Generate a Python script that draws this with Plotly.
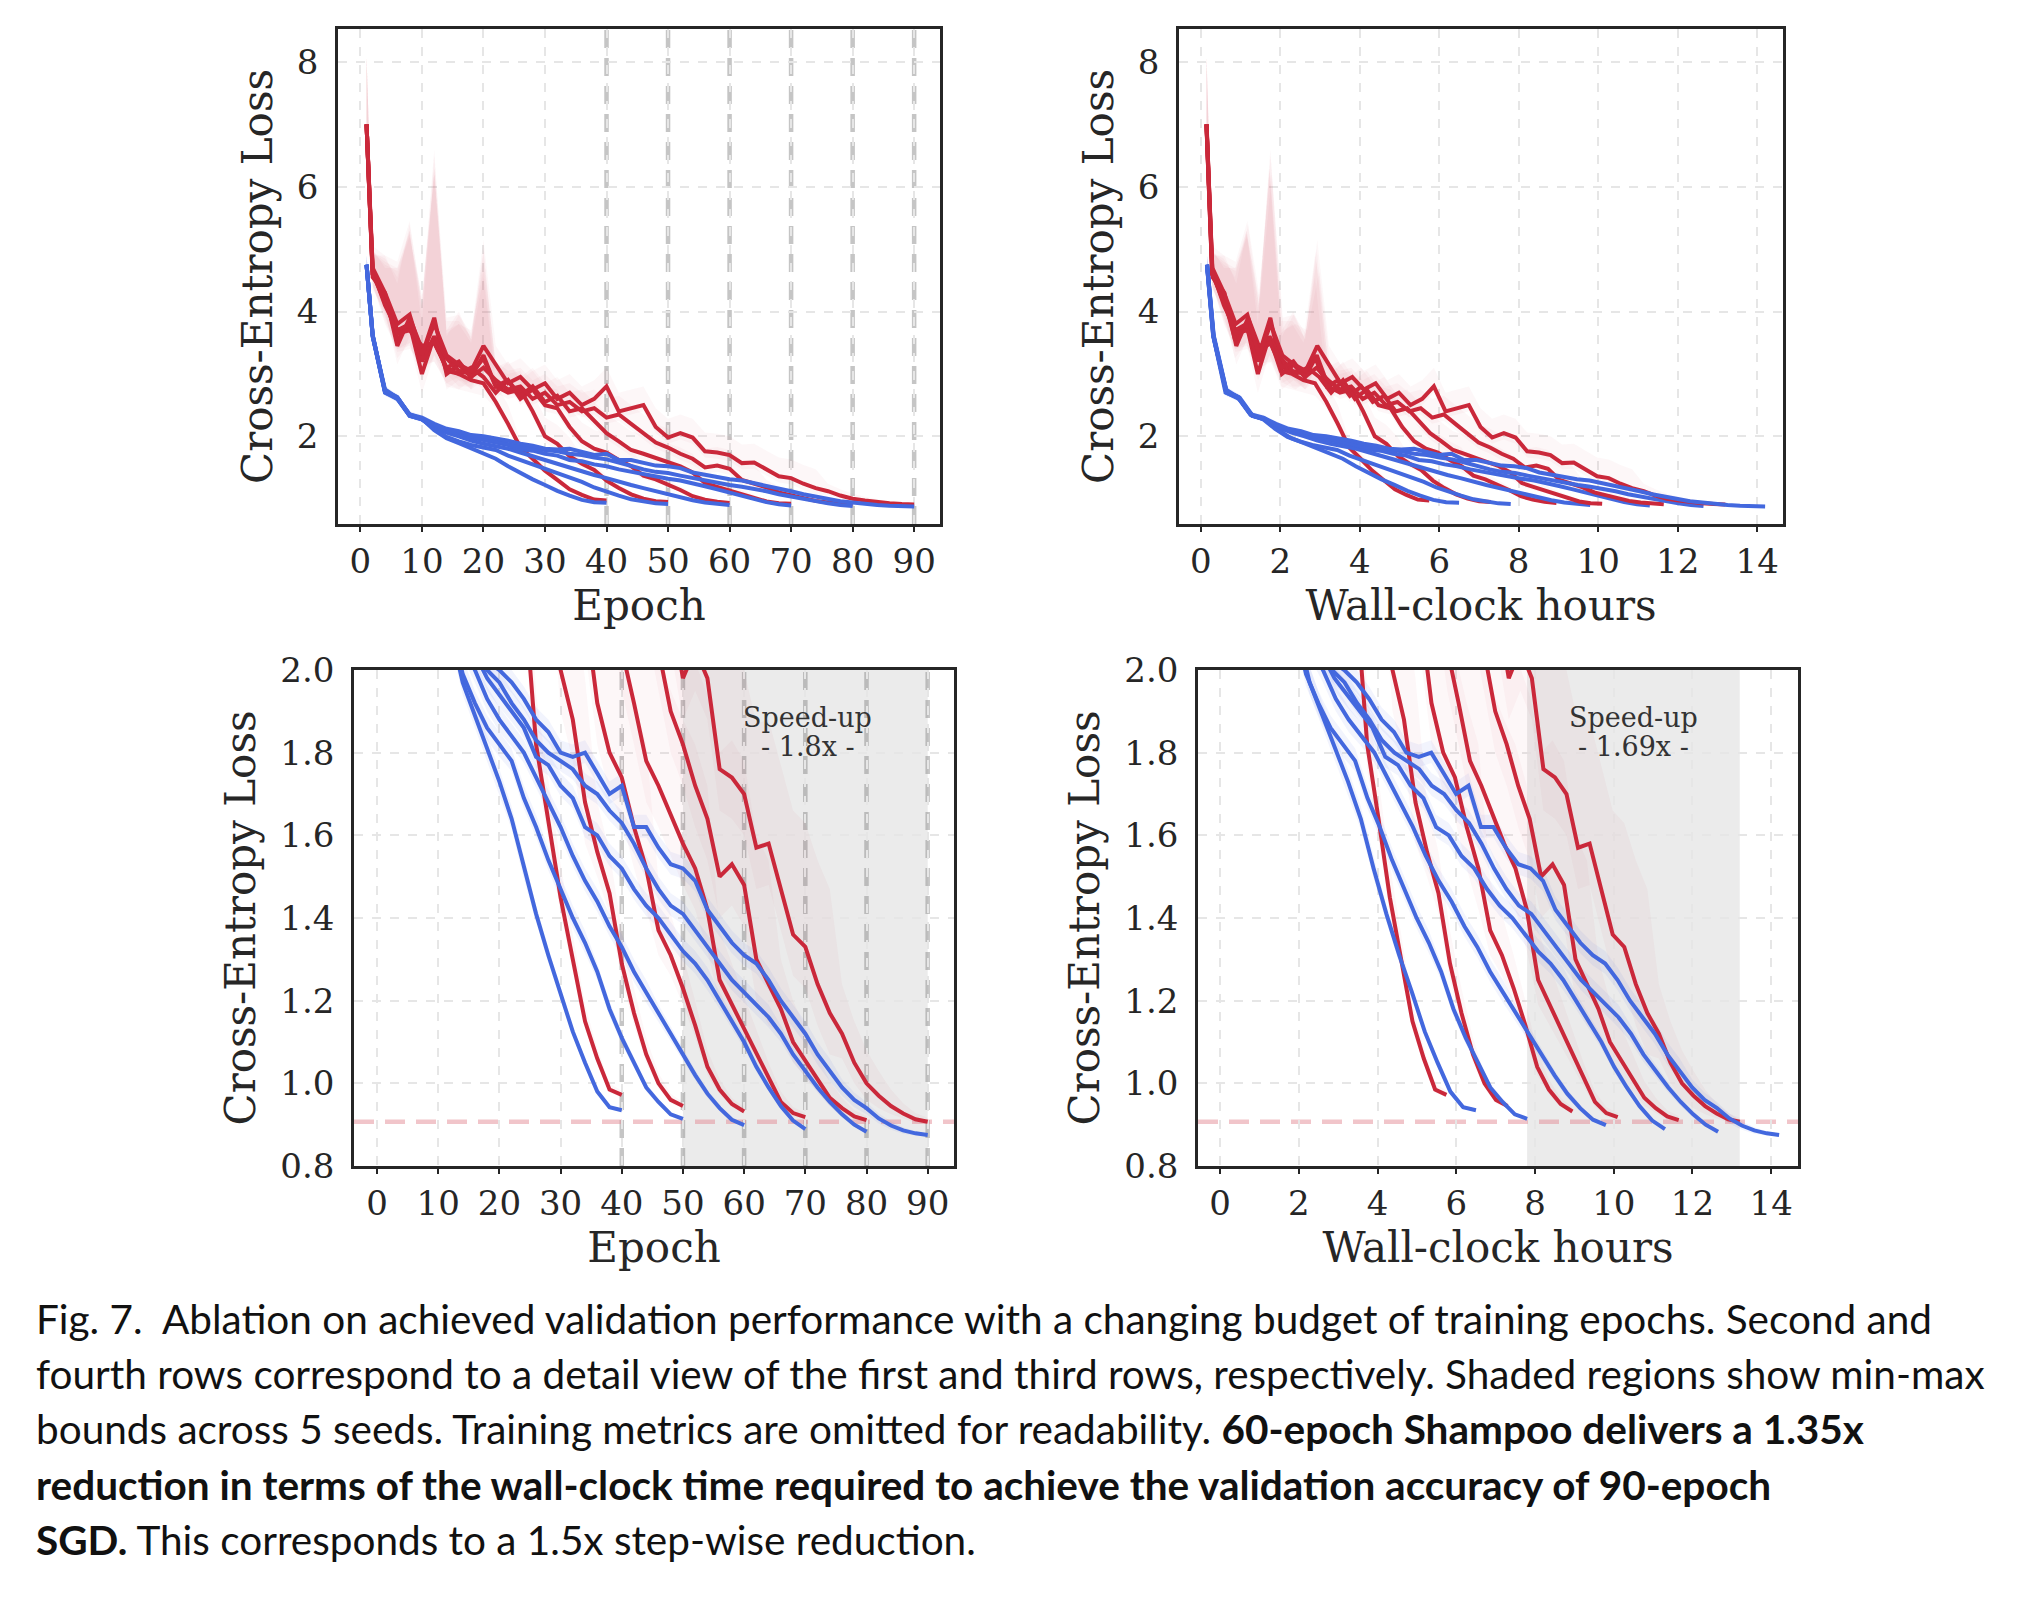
import plotly.graph_objects as go

# ---------------- data ----------------
budgets = [40, 50, 60, 70, 80, 90]

# validation loss at epochs 1, 2, 4, 6, ..., budget  (SGD = red, Shampoo = blue)
sgd_40 = [7.0, 4.6, 4.25, 3.55, 3.8, 3.0, 3.6, 3.05, 3.0, 2.9, 2.85, 2.55, 2.2, 1.82, 1.64, 1.45, 1.30, 1.15, 1.06, 0.985, 0.972]
sgd_50 = [7.0, 4.65, 4.1, 3.7, 3.75, 3.3, 3.9, 3.0, 3.15, 2.95, 3.3, 2.8, 2.7, 2.75, 2.4, 2.0, 1.88, 1.68, 1.56, 1.46, 1.29, 1.17, 1.07, 1.0, 0.96, 0.945]
sgd_60 = [7.0, 4.55, 4.3, 3.45, 3.9, 3.4, 3.5, 3.1, 3.0, 3.1, 2.95, 2.7, 2.9, 2.6, 2.75, 2.5, 2.45, 2.15, 1.92, 1.80, 1.74, 1.62, 1.52, 1.37, 1.31, 1.23, 1.14, 1.04, 0.985, 0.95, 0.932]
sgd_70 = [7.0, 4.6, 4.2, 3.7, 3.8, 3.2, 3.6, 3.25, 3.05, 3.0, 3.25, 2.8, 2.9, 2.65, 2.8, 2.55, 2.65, 2.4, 2.45, 2.25, 2.05, 1.92, 1.78, 1.72, 1.65, 1.58, 1.52, 1.42, 1.25, 1.19, 1.13, 1.07, 1.01, 0.955, 0.928, 0.918]
sgd_80 = [7.0, 4.6, 4.15, 3.65, 3.7, 3.45, 3.5, 3.1, 3.2, 2.95, 3.1, 2.9, 2.75, 2.8, 2.6, 2.7, 2.5, 2.55, 2.4, 2.45, 2.3, 2.35, 2.2, 2.05, 1.9, 1.82, 1.72, 1.64, 1.50, 1.53, 1.48, 1.30, 1.24, 1.18, 1.10, 1.055, 1.01, 0.965, 0.94, 0.92, 0.911]
sgd_90 = [7.0, 4.7, 4.3, 3.8, 3.95, 3.3, 3.8, 3.3, 3.15, 3.05, 3.45, 3.15, 2.85, 2.95, 2.75, 2.85, 2.6, 2.7, 2.5, 2.6, 2.8, 2.4, 2.45, 2.5, 2.15, 1.98, 2.05, 1.98, 1.76, 1.74, 1.70, 1.57, 1.58, 1.47, 1.36, 1.33, 1.24, 1.17, 1.12, 1.05, 1.0, 0.97, 0.945, 0.927, 0.913, 0.907]

shampoo_40 = [4.75, 3.6, 2.72, 2.6, 2.33, 2.28, 2.1, 1.97, 1.89, 1.81, 1.73, 1.64, 1.52, 1.41, 1.31, 1.22, 1.125, 1.05, 0.98, 0.942, 0.935]
shampoo_50 = [4.75, 3.62, 2.7, 2.62, 2.35, 2.28, 2.12, 1.99, 1.92, 1.86, 1.82, 1.78, 1.69, 1.62, 1.54, 1.47, 1.40, 1.34, 1.27, 1.18, 1.11, 1.05, 0.99, 0.955, 0.925, 0.914]
shampoo_60 = [4.75, 3.62, 2.72, 2.62, 2.33, 2.27, 2.14, 2.06, 2.0, 1.93, 1.88, 1.84, 1.8, 1.74, 1.68, 1.62, 1.55, 1.49, 1.44, 1.38, 1.33, 1.27, 1.22, 1.17, 1.12, 1.07, 1.02, 0.975, 0.94, 0.912, 0.899]
shampoo_70 = [4.75, 3.6, 2.7, 2.6, 2.33, 2.27, 2.16, 2.08, 2.04, 1.98, 1.94, 1.9, 1.86, 1.79, 1.77, 1.72, 1.69, 1.62, 1.6, 1.55, 1.52, 1.47, 1.43, 1.40, 1.36, 1.32, 1.29, 1.25, 1.2, 1.15, 1.1, 1.04, 0.99, 0.945, 0.91, 0.889]
shampoo_80 = [4.75, 3.62, 2.72, 2.63, 2.34, 2.28, 2.18, 2.1, 2.06, 2.0, 1.97, 1.92, 1.88, 1.83, 1.8, 1.78, 1.76, 1.72, 1.7, 1.66, 1.63, 1.58, 1.52, 1.47, 1.43, 1.41, 1.37, 1.33, 1.29, 1.25, 1.22, 1.19, 1.16, 1.12, 1.07, 1.03, 0.99, 0.955, 0.925, 0.9, 0.883]
shampoo_90 = [4.75, 3.6, 2.75, 2.62, 2.35, 2.3, 2.2, 2.12, 2.08, 2.02, 2.0, 1.97, 1.93, 1.88, 1.85, 1.8, 1.79, 1.8, 1.75, 1.70, 1.72, 1.62, 1.62, 1.57, 1.53, 1.52, 1.49, 1.42, 1.38, 1.34, 1.31, 1.29, 1.25, 1.20, 1.16, 1.12, 1.07, 1.03, 0.99, 0.96, 0.94, 0.915, 0.898, 0.886, 0.879, 0.875]

# total wall-clock hours of each run
sgd_hours = [5.75, 7.3, 8.95, 10.1, 11.65, 13.2]
shampoo_hours = [6.5, 7.8, 9.8, 11.3, 12.65, 14.2]

# min-max band offsets (first 11 points, middle, last 8 points)
sgd_head_hi = [1.1, 0.35, 0.6, 1.0, 1.5, 0.8, 2.7, 0.6, 0.8, 0.6, 1.7]
sgd_head_lo = [0.3, 0.2, 0.3, 0.3, 0.3, 0.3, 0.3, 0.25, 0.25, 0.2, 0.2]
sgd_mid_hi, sgd_mid_lo = 0.3, 0.1
sgd_tail_hi = [0.12, 0.1, 0.08, 0.06, 0.04, 0.025, 0.015, 0.01]
sgd_tail_lo = [0.06, 0.05, 0.04, 0.03, 0.02, 0.012, 0.008, 0.005]
shampoo_head_hi = [0.15, 0.08, 0.06, 0.05, 0.05, 0.04, 0.04, 0.04, 0.03, 0.03, 0.03]
shampoo_head_lo = [0.1, 0.06, 0.05, 0.05, 0.04, 0.04, 0.03, 0.03, 0.03, 0.03, 0.03]
shampoo_mid_hi, shampoo_mid_lo = 0.03, 0.025
shampoo_tail_hi = [0.02, 0.018, 0.015, 0.012, 0.01, 0.008, 0.005, 0.003]
shampoo_tail_lo = [0.02, 0.018, 0.015, 0.012, 0.01, 0.008, 0.005, 0.003]

target_loss = 0.907          # final loss of 90-epoch SGD
speedup_epoch = (50, 90)
speedup_hours = (7.8, 13.2)

sgd_runs = [sgd_40, sgd_50, sgd_60, sgd_70, sgd_80, sgd_90]
shampoo_runs = [shampoo_40, shampoo_50, shampoo_60, shampoo_70, shampoo_80, shampoo_90]

RED = "rgb(202,40,58)"
BLUE = "rgb(67,104,222)"
RED_FILL = "rgba(215,70,90,0.045)"
BLUE_FILL = "rgba(67,104,222,0.07)"
SERIF = "DejaVu Serif"
INK = "#262626"


def epochs_of(b):
    return [1] + list(range(2, b + 1, 2))


def spreads(n, head, mid, tail):
    out = []
    for i in range(n):
        if i < len(head):
            out.append(head[i])
        elif i >= n - len(tail):
            out.append(tail[i - (n - len(tail))])
        else:
            out.append(mid)
    return out


fig = go.Figure()
panels = [("x", "y", "epoch"), ("x2", "y2", "hours"), ("x3", "y3", "epoch"), ("x4", "y4", "hours")]

for xa, ya, kind in panels:
    for bi, b in enumerate(budgets):
        ep = epochs_of(b)
        for runs, hours, col, fill, hh, hl, mh, ml, th, tl in [
            (sgd_runs, sgd_hours, RED, RED_FILL, sgd_head_hi, sgd_head_lo, sgd_mid_hi, sgd_mid_lo, sgd_tail_hi, sgd_tail_lo),
            (shampoo_runs, shampoo_hours, BLUE, BLUE_FILL, shampoo_head_hi, shampoo_head_lo, shampoo_mid_hi, shampoo_mid_lo, shampoo_tail_hi, shampoo_tail_lo),
        ]:
            vals = runs[bi]
            n = len(vals)
            xs = ep if kind == "epoch" else [e * hours[bi] / b for e in ep]
            up = spreads(n, hh, mh, th)
            dn = spreads(n, hl, ml, tl)
            lo = [v - d for v, d in zip(vals, dn)]
            hi = [v + u for v, u in zip(vals, up)]
            fig.add_trace(go.Scatter(x=xs, y=lo, xaxis=xa, yaxis=ya, mode="lines",
                                     line=dict(width=0, color=fill), showlegend=False, hoverinfo="skip"))
            fig.add_trace(go.Scatter(x=xs, y=hi, xaxis=xa, yaxis=ya, mode="lines", fill="tonexty",
                                     fillcolor=fill, line=dict(width=0, color=fill), showlegend=False, hoverinfo="skip"))

for xa, ya, kind in panels:
    for bi, b in enumerate(budgets):
        ep = epochs_of(b)
        for runs, hours, col in [(sgd_runs, sgd_hours, RED), (shampoo_runs, shampoo_hours, BLUE)]:
            xs = ep if kind == "epoch" else [e * hours[bi] / b for e in ep]
            fig.add_trace(go.Scatter(x=xs, y=runs[bi], xaxis=xa, yaxis=ya, mode="lines",
                                     line=dict(width=4, color=col), showlegend=False))

W, H = 2024, 1610


def dom_x(a, b):
    return [a / W, b / W]


def dom_y(top, bottom):
    return [1 - bottom / H, 1 - top / H]


axis_common = dict(showline=True, linecolor=INK, linewidth=2.5, mirror=True, automargin=False,
                   showgrid=True, gridcolor="#e6e6e6", griddash="dash", gridwidth=1.6,
                   zeroline=False, tickfont=dict(family=SERIF, size=34, color=INK))
xtick = dict(ticks="outside", ticklen=5, tickwidth=2, tickcolor=INK)
ytick = dict(ticks="", ticklabelstandoff=10)
title_font = dict(family=SERIF, size=42, color=INK)

epoch_ticks = [0, 10, 20, 30, 40, 50, 60, 70, 80, 90]
hour_ticks = [0, 2, 4, 6, 8, 10, 12, 14]
top_y = dict(axis_common, **ytick, domain=dom_y(21, 516), range=[0.594, 8.53], tickvals=[2, 4, 6, 8],
             title=dict(text="Cross-Entropy Loss", font=title_font, standoff=12))
bot_y = dict(axis_common, **ytick, domain=dom_y(662, 1158), range=[0.8, 2.0],
             tickvals=[0.8, 1.0, 1.2, 1.4, 1.6, 1.8, 2.0], tickformat=".1f",
             title=dict(text="Cross-Entropy Loss", font=title_font, standoff=12))

fig.update_layout(
    width=W, height=H, margin=dict(l=0, r=0, t=0, b=0, autoexpand=False),
    paper_bgcolor="white", plot_bgcolor="white",
    xaxis=dict(axis_common, **xtick, domain=dom_x(330, 932), range=[-3.64, 94.2], tickvals=epoch_ticks,
               title=dict(text="Epoch", font=title_font, standoff=4), anchor="y"),
    yaxis=dict(top_y, anchor="x"),
    xaxis2=dict(axis_common, **xtick, domain=dom_x(1171, 1775), range=[-0.546, 14.65], tickvals=hour_ticks,
                title=dict(text="Wall-clock hours", font=title_font, standoff=4), anchor="y2"),
    yaxis2=dict(top_y, anchor="x2"),
    xaxis3=dict(axis_common, **xtick, domain=dom_x(346, 946), range=[-3.76, 94.3], tickvals=epoch_ticks,
                title=dict(text="Epoch", font=title_font, standoff=4), anchor="y3"),
    yaxis3=dict(bot_y, anchor="x3"),
    xaxis4=dict(axis_common, **xtick, domain=dom_x(1190, 1790), range=[-0.56, 14.68], tickvals=hour_ticks,
                title=dict(text="Wall-clock hours", font=title_font, standoff=4), anchor="y4"),
    yaxis4=dict(bot_y, anchor="x4"),
)

shapes = []
# speed-up shaded regions
shapes.append(dict(type="rect", xref="x3", yref="y3 domain", x0=speedup_epoch[0], x1=speedup_epoch[1],
                   y0=0, y1=1, fillcolor="#ebebeb", line=dict(width=0), layer="below"))
shapes.append(dict(type="rect", xref="x4", yref="y4 domain", x0=speedup_hours[0], x1=speedup_hours[1],
                   y0=0, y1=1, fillcolor="#ebebeb", line=dict(width=0), layer="below"))
# budget markers
for xa, ya in [("x", "y"), ("x3", "y3")]:
    for b in budgets:
        shapes.append(dict(type="line", xref=xa, yref=ya + " domain", x0=b, x1=b, y0=0, y1=1,
                           line=dict(color="rgba(140,140,140,0.5)", width=4.5, dash="18px,10px"), layer="below"))
# target loss line
for xa, ya in [("x3", "y3"), ("x4", "y4")]:
    shapes.append(dict(type="line", xref=xa + " domain", yref=ya, x0=0, x1=1, y0=target_loss, y1=target_loss,
                       line=dict(color="rgba(228,140,150,0.5)", width=4.5, dash="20px,11px"), layer="below"))
fig.update_layout(shapes=shapes)

ann = []
sp_font = dict(family=SERIF, size=27, color="#333333")
ann.append(dict(xref="x3", yref="y3", x=70.4, y=1.885, text="Speed-up", showarrow=False, font=sp_font))
ann.append(dict(xref="x3", yref="y3", x=70.4, y=1.815, text="- 1.8x -", showarrow=False, font=sp_font))
ann.append(dict(xref="x4", yref="y4", x=10.5, y=1.885, text="Speed-up", showarrow=False, font=sp_font))
ann.append(dict(xref="x4", yref="y4", x=10.5, y=1.815, text="- 1.69x -", showarrow=False, font=sp_font))

caption_lines = [
    "Fig. 7.  Ablation on achieved validation performance with a changing budget of training epochs. Second and",
    "fourth rows correspond to a detail view of the first and third rows, respectively. Shaded regions show min-max",
    "bounds across 5 seeds. Training metrics are omitted for readability. <b>60-epoch Shampoo delivers a 1.35x</b>",
    "<b>reduction in terms of the wall-clock time required to achieve the validation accuracy of 90-epoch</b>",
    "<b>SGD.</b> This corresponds to a 1.5x step-wise reduction.",
]
caption_y = [1310, 1365, 1420, 1476, 1531]
for line, yy in zip(caption_lines, caption_y):
    ann.append(dict(xref="paper", yref="paper", x=26 / W, y=1 - yy / H, xanchor="left", yanchor="middle",
                    text=line, showarrow=False, align="left",
                    font=dict(family="Lato", size=40.5, color="#111111")))
fig.update_layout(annotations=ann)

fig.write_html("out.html")
